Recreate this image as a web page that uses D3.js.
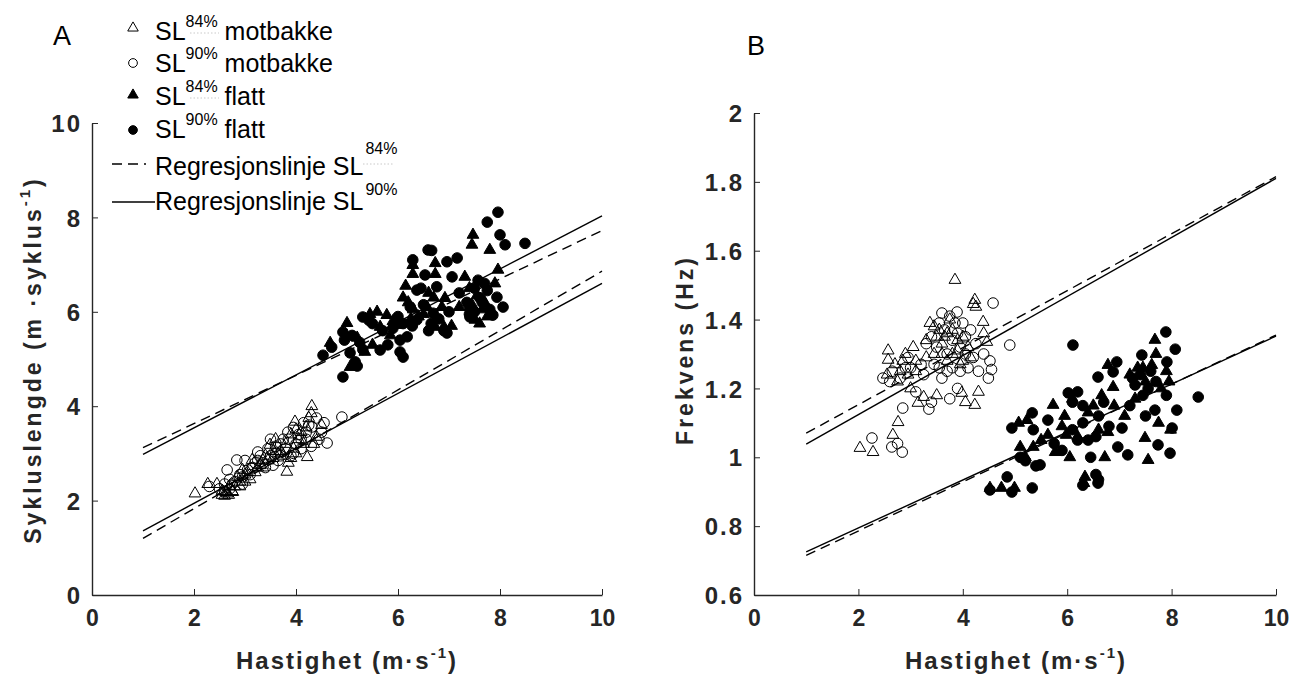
<!DOCTYPE html>
<html><head><meta charset="utf-8">
<script src="https://cdn.jsdelivr.net/npm/d3@7"></script>
<style>
html,body{margin:0;padding:0;background:#fff;}
text{font-family:Arial,"Liberation Sans",sans-serif;}
</style></head>
<body><svg id="c" width="1303" height="684"></svg>
<script>
// ---------- DATA ----------
const xTicks = [0, 2, 4, 6, 8, 10];
const yTicksA = [0, 2, 4, 6, 8, 10];
const yTicksB = [0.6, 0.8, 1, 1.2, 1.4, 1.6, 1.8, 2];

// Panel A: Sykluslengde vs Hastighet
const aMot84 = [[2.02,2.15],[2.27,2.35],[2.45,2.35],[2.76,2.18],[2.55,2.2],[2.6,2.1],[2.7,2.3],[2.9,2.4],[3.0,2.55],[3.14,2.86],[3.3,2.75],[3.49,3.18],[3.4,2.95],[3.55,2.9],[3.7,3.05],[3.82,2.61],[3.85,2.8],[3.95,3.1],[3.98,3.67],[4.05,3.3],[4.1,3.45],[4.2,3.55],[4.31,4.0],[4.3,3.85],[4.25,3.75],[4.22,2.92],[4.4,3.35],[4.5,3.6],[3.6,3.3],[3.2,2.6],[3.1,2.45],[2.85,2.5],[3.75,2.95],[4.0,3.0],[3.9,3.4],[4.35,3.2],[2.65,2.15],[2.75,2.2],[2.8,2.3],[3.35,2.7],[3.65,3.0],[2.55,2.12],[2.62,2.18],[2.68,2.12],[2.9,2.3],[3.0,2.4],[3.05,2.6],[3.25,2.7],[3.45,2.85],[3.55,3.05],[3.8,3.2],[3.9,2.9],[4.0,3.5],[4.15,3.2],[3.35,2.85],[2.95,2.65]];
const aMot90 = [[2.84,2.86],[2.65,2.65],[2.3,2.3],[2.5,2.25],[2.7,2.45],[2.95,2.5],[3.05,2.65],[3.25,3.03],[3.35,2.8],[3.45,3.1],[3.6,3.0],[3.7,3.2],[3.84,3.45],[3.8,3.1],[3.9,2.95],[4.0,3.2],[4.1,3.1],[4.31,3.56],[4.4,3.75],[4.9,3.77],[4.61,3.22],[4.5,3.45],[4.55,3.65],[4.2,3.3],[4.3,3.15],[3.55,2.75],[3.15,2.7],[2.8,2.4],[2.6,2.35],[3.95,3.55],[4.15,3.65],[4.45,3.3],[3.0,2.85],[3.5,3.3],[3.65,2.85],[2.6,2.2],[2.7,2.25],[3.2,2.8],[3.75,3.3],[4.05,3.4],[2.75,2.35],[2.9,2.55],[3.1,2.55],[3.3,2.95],[3.4,2.7],[3.6,3.15],[3.7,2.95],[3.85,3.3],[3.95,3.0],[4.2,3.45],[4.25,3.6],[3.25,2.85],[2.95,2.35],[3.5,2.95],[4.1,3.3]];
const aFla84 = [[7.47,7.63],[7.45,7.42],[7.8,7.31],[7.96,6.89],[7.31,6.74],[6.73,7.03],[6.29,6.99],[6.29,6.8],[6.73,6.8],[6.92,6.29],[6.86,6.1],[6.57,6.1],[6.73,5.68],[6.9,5.68],[6.2,6.2],[6.3,6.05],[6.25,5.85],[5.98,5.72],[5.65,5.68],[5.85,5.5],[5.78,5.93],[5.59,6.0],[5.45,5.95],[5.0,5.76],[4.67,5.34],[5.06,4.83],[7.4,6.5],[7.55,6.35],[7.51,5.83],[7.6,5.75],[7.65,6.05],[7.9,6.6],[6.6,6.4],[6.4,5.9],[5.2,5.45],[5.5,5.3],[7.2,6.1],[6.15,6.55],[7.05,5.7],[7.7,6.2],[7.45,6.15],[6.5,5.95],[6.1,6.3],[5.9,5.8],[6.7,6.3],[7.75,5.9],[5.35,5.15]];
const aFla90 = [[7.96,8.11],[7.75,7.9],[8.0,7.63],[8.1,7.42],[8.49,7.45],[6.59,7.31],[6.66,7.3],[7.16,7.14],[6.96,7.06],[7.06,6.74],[6.29,7.1],[6.53,6.78],[6.37,6.46],[6.45,6.5],[6.76,6.53],[7.57,6.67],[7.7,6.6],[7.94,6.31],[8.06,6.1],[7.86,5.93],[7.41,6.08],[7.35,6.2],[7.41,5.89],[6.69,5.97],[6.8,5.85],[6.96,5.55],[6.9,5.6],[6.65,5.75],[6.37,5.83],[6.24,6.1],[6.28,5.7],[6.04,5.4],[6.18,5.47],[6.04,5.15],[6.1,5.04],[5.65,5.19],[5.8,5.3],[5.7,5.6],[5.31,5.89],[5.43,5.82],[4.92,5.57],[4.95,5.4],[5.1,5.5],[5.31,5.2],[5.06,5.13],[5.16,4.94],[5.2,4.85],[4.92,4.62],[4.53,5.08],[4.7,5.25],[7.6,6.3],[7.75,6.45],[7.5,6.0],[7.2,6.4],[6.0,5.9],[7.5,6.5],[7.65,6.2],[7.8,6.05],[7.4,5.95],[6.5,6.15],[6.1,5.75],[5.9,5.65],[6.6,5.6],[7.0,6.0],[5.5,5.75],[5.25,5.35]];
const aReg84 = [[[1,3.12],[10,7.72]], [[1,1.2],[10,6.86]]];
const aReg90 = [[[1,2.98],[10,8.03]], [[1,1.36],[10,6.6]]];

// Panel B: Frekvens vs Hastighet
const bMot84 = [[3.85,1.515],[4.23,1.457],[4.25,1.437],[4.2,1.445],[3.37,1.39],[3.55,1.37],[4.39,1.393],[4.46,1.335],[2.57,1.31],[2.57,1.283],[2.9,1.3],[3.05,1.32],[3.1,1.28],[2.55,1.24],[2.95,1.24],[3.0,1.2],[3.3,1.29],[3.6,1.33],[3.7,1.36],[3.8,1.3],[3.9,1.34],[4.0,1.28],[4.1,1.32],[3.14,1.158],[3.25,1.175],[3.5,1.18],[3.98,1.187],[4.05,1.16],[4.23,1.152],[4.3,1.19],[2.76,1.102],[2.66,1.065],[2.03,1.027],[2.28,1.015],[3.65,1.35],[3.75,1.4],[2.7,1.27],[2.8,1.25],[3.45,1.3],[4.4,1.36],[3.5,1.35],[3.6,1.3],[3.8,1.37],[3.9,1.31],[4.0,1.35],[3.45,1.38],[3.3,1.34],[2.75,1.22],[2.85,1.28],[3.1,1.25],[3.7,1.28],[4.15,1.29],[3.95,1.27]];
const bMot90 = [[4.58,1.448],[4.9,1.326],[4.52,1.28],[4.55,1.255],[4.49,1.23],[4.3,1.25],[3.6,1.419],[3.89,1.422],[3.75,1.41],[2.85,1.143],[3.1,1.19],[3.4,1.16],[3.35,1.14],[3.75,1.17],[3.9,1.2],[2.26,1.056],[2.64,1.03],[2.75,1.04],[2.84,1.015],[2.47,1.23],[2.6,1.22],[2.8,1.23],[3.0,1.26],[3.2,1.27],[3.4,1.35],[3.5,1.32],[3.7,1.3],[3.8,1.26],[3.9,1.36],[4.0,1.39],[4.1,1.26],[4.2,1.29],[3.6,1.23],[3.95,1.25],[4.4,1.3],[3.3,1.33],[2.9,1.26],[4.05,1.35],[3.55,1.26],[3.55,1.39],[3.65,1.37],[3.8,1.34],[3.85,1.39],[3.95,1.32],[4.05,1.3],[3.45,1.27],[3.25,1.24],[2.65,1.25],[2.95,1.29],[3.7,1.25],[4.15,1.37],[4.25,1.33]];
const bFla84 = [[7.68,1.341],[7.7,1.3],[7.62,1.268],[7.9,1.25],[7.2,1.24],[7.35,1.26],[7.95,1.22],[6.78,1.268],[6.88,1.204],[6.66,1.18],[5.73,1.152],[5.95,1.12],[6.1,1.17],[5.23,1.108],[5.07,1.1],[5.63,1.065],[5.98,1.065],[6.2,1.06],[6.78,1.073],[5.1,1.03],[5.35,1.03],[5.77,1.015],[6.6,1.08],[6.72,1.0],[7.49,1.056],[7.75,1.1],[7.98,1.08],[7.55,0.992],[6.34,0.943],[6.32,0.925],[4.52,0.911],[4.74,0.911],[4.99,0.911],[5.2,1.0],[7.3,1.17],[7.5,1.22],[6.4,1.13],[6.9,1.15],[5.5,1.05],[7.45,1.26],[7.1,1.12],[6.5,1.15],[5.9,1.09],[7.8,1.2],[6.05,1.0]];
const bFla90 = [[7.89,1.364],[6.11,1.326],[8.07,1.314],[7.43,1.297],[7.91,1.277],[6.95,1.277],[6.88,1.248],[6.59,1.233],[7.25,1.23],[7.3,1.21],[7.45,1.18],[7.9,1.18],[8.51,1.175],[6.02,1.187],[6.2,1.19],[7.68,1.137],[8.1,1.137],[5.33,1.129],[5.63,1.108],[4.94,1.085],[5.35,1.08],[6.1,1.16],[6.3,1.15],[6.6,1.12],[6.7,1.16],[7.05,1.085],[8.01,1.085],[7.74,1.036],[7.97,1.012],[7.16,1.007],[6.97,1.03],[6.2,1.05],[6.4,1.05],[6.55,1.06],[5.48,0.978],[5.4,0.975],[4.85,0.943],[6.55,0.95],[6.6,0.935],[6.59,0.925],[4.52,0.905],[4.94,0.899],[5.33,0.911],[6.3,0.919],[5.1,1.0],[5.2,0.99],[5.9,1.02],[6.1,1.08],[6.3,1.1],[7.5,1.12],[7.7,1.22],[7.4,1.24],[7.6,1.25],[7.55,1.2],[6.8,1.09],[6.45,1.0],[5.75,1.04],[7.2,1.15]];
const bReg84 = [[[1,1.07],[10,1.815]], [[1,0.715],[10,1.355]]];
const bReg90 = [[[1,1.038],[10,1.81]], [[1,0.725],[10,1.352]]];

const legendItems = [
  {kind:"tri", filled:false, sup:"84%", rest:" motbakke", ul:true},
  {kind:"circ", filled:false, sup:"90%", rest:" motbakke", ul:false},
  {kind:"tri", filled:true, sup:"84%", rest:" flatt", ul:true},
  {kind:"circ", filled:true, sup:"90%", rest:" flatt", ul:false}
];

// ---------- DRAW ----------
const svg = d3.select("#c");
const ink = "#262626";
const triPath = d3.symbol().type(d3.symbolTriangle).size(60)();
const circPath = d3.symbol().type(d3.symbolCircle).size(88)();
const triPathL = d3.symbol().type(d3.symbolTriangle).size(48)();
const circPathL = d3.symbol().type(d3.symbolCircle).size(60)();

function panel(cfg) {
  const x = d3.scaleLinear().domain([0,10]).range(cfg.xr);
  const y = d3.scaleLinear().domain(cfg.yd).range(cfg.yr);
  const g = svg.append("g");

  function pts(data, kind, filled) {
    g.append("g").selectAll("path").data(data).join("path")
      .attr("transform", d => `translate(${x(d[0])},${y(d[1])})`)
      .attr("d", kind === "tri" ? triPath : circPath)
      .attr("fill", filled ? "#000" : "none")
      .attr("stroke", "#000").attr("stroke-width", 1);
  }
  pts(cfg.mot84, "tri", false);
  pts(cfg.mot90, "circ", false);
  pts(cfg.fla84, "tri", true);
  pts(cfg.fla90, "circ", true);

  const line = d3.line().x(d => x(d[0])).y(d => y(d[1]));
  cfg.reg84.forEach(seg => g.append("path").attr("d", line(seg)).attr("fill","none")
      .attr("stroke","#000").attr("stroke-width",1.4).attr("stroke-dasharray","10,6"));
  cfg.reg90.forEach(seg => g.append("path").attr("d", line(seg)).attr("fill","none")
      .attr("stroke","#000").attr("stroke-width",1.4));

  // axes
  const xa = g.append("g").attr("transform", `translate(0,${cfg.yr[0]})`)
    .call(d3.axisBottom(x).tickValues(xTicks).tickSizeInner(-6).tickSizeOuter(0).tickPadding(15).tickFormat(d3.format("d")));
  const ya = g.append("g").attr("transform", `translate(${cfg.xr[0]},0)`)
    .call(d3.axisLeft(y).tickValues(cfg.yt).tickSizeInner(-6).tickSizeOuter(0).tickPadding(10).tickFormat(d => String(d)));
  [xa, ya].forEach(a => {
    a.select(".domain").attr("stroke", ink).attr("stroke-width", 1.4);
    a.selectAll(".tick line").attr("stroke", ink).attr("stroke-width", 1);
    a.selectAll(".tick text").attr("fill", ink).attr("font-weight", "bold")
      .attr("font-family", "Arial, 'Liberation Sans', sans-serif");
  });
  xa.selectAll(".tick text").attr("font-size", 23).attr("dy", "0.71em");
  ya.selectAll(".tick text").attr("font-size", 24).attr("letter-spacing", 2).attr("dy", "0.36em");

  // x label
  const xl = g.append("text").attr("x", cfg.xlx).attr("y", 669).attr("text-anchor","middle")
    .attr("font-size", 24).attr("font-weight","bold").attr("fill", ink).attr("letter-spacing", 2);
  xl.append("tspan").text("Hastighet (m·s");
  xl.append("tspan").text("-1").attr("font-size", 15).attr("dy", -11);
  xl.append("tspan").text(")").attr("dy", 11);

  // y label
  const yl = g.append("text").attr("transform", `translate(${cfg.ylx},${cfg.yly}) rotate(-90)`)
    .attr("text-anchor","middle").attr("font-size", 23).attr("font-weight","bold").attr("fill", ink)
    .attr("letter-spacing", 3);
  cfg.ylab(yl);

  svg.append("text").attr("x", cfg.lx).attr("y", cfg.ly).attr("font-size", 27).attr("fill", "#000").text(cfg.letter);
}

panel({xr:[92,602], yd:[0,10], yr:[595,123], yt:yTicksA,
  mot84:aMot84, mot90:aMot90, fla84:aFla84, fla90:aFla90, reg84:aReg84, reg90:aReg90,
  xlx:347, ylx:41, yly:360, lx:53, ly:45, letter:"A",
  ylab: t => { t.append("tspan").text("Sykluslengde (m ·syklus");
               t.append("tspan").text("-1").attr("font-size",15).attr("dy",-11);
               t.append("tspan").text(")").attr("dy",11); }});

panel({xr:[754,1276], yd:[0.6,2], yr:[595,113], yt:yTicksB,
  mot84:bMot84, mot90:bMot90, fla84:bFla84, fla90:bFla90, reg84:bReg84, reg90:bReg90,
  xlx:1016, ylx:693, yly:350, lx:747, ly:55, letter:"B",
  ylab: t => { t.text("Frekvens (Hz)"); }});

// ---------- LEGEND (panel A) ----------
const lg = svg.append("g");
const rowY = [40, 72, 105, 138];
const markY = [28, 63, 95, 130];
legendItems.forEach((it, i) => {
  lg.append("path").attr("transform", `translate(133,${markY[i]})`)
    .attr("d", it.kind === "tri" ? triPathL : circPathL)
    .attr("fill", it.filled ? "#000" : "none").attr("stroke", "#000").attr("stroke-width", 1);
  const t = lg.append("text").attr("x", 155).attr("y", rowY[i]).attr("font-size", 25).attr("fill", "#000");
  t.append("tspan").text("SL");
  t.append("tspan").text(it.sup).attr("font-size", 16).attr("dy", -13);
  t.append("tspan").text(it.rest).attr("dy", 13);
  if (it.ul) lg.append("line").attr("x1", 190).attr("x2", 219).attr("y1", rowY[i]-7).attr("y2", rowY[i]-7)
      .attr("stroke", "#bbb").attr("stroke-width", 0.8).attr("stroke-dasharray", "1.5,2");
});
lg.append("line").attr("x1",112).attr("x2",146).attr("y1",164).attr("y2",164)
  .attr("stroke","#000").attr("stroke-width",1.4).attr("stroke-dasharray","10,6");
lg.append("line").attr("x1",112).attr("x2",155).attr("y1",202).attr("y2",202)
  .attr("stroke","#000").attr("stroke-width",1.4);
[[175,"84%",true,-21],[210,"90%",false,-15]].forEach(([by, sup, ul, dy]) => {
  const t = lg.append("text").attr("x",155).attr("y",by).attr("font-size",25).attr("fill","#000");
  t.append("tspan").text("Regresjonslinje SL");
  t.append("tspan").text(sup).attr("font-size",16).attr("dy",dy).attr("dx",2);
  if (ul) lg.append("line").attr("x1",363).attr("x2",394).attr("y1",by-11).attr("y2",by-11)
      .attr("stroke","#bbb").attr("stroke-width",0.8).attr("stroke-dasharray","1.5,2");
});
</script></body></html>
